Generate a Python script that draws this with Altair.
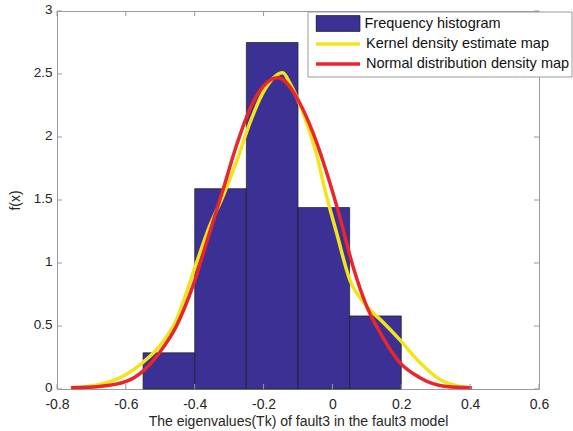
import altair as alt
import pandas as pd

# ---- data ----
hist_name = "Frequency histogram"
kde_name = "Kernel density estimate map"
norm_name = "Normal distribution density map"

bin_left = [-0.55, -0.40, -0.25, -0.10, 0.05]
bin_right = [-0.40, -0.25, -0.10, 0.05, 0.20]
bin_height = [0.287, 1.59, 2.75, 1.44, 0.58]

kde_x = [-0.76, -0.677, -0.599, -0.551, -0.502, -0.453, -0.405, -0.357, -0.318,
         -0.279, -0.240, -0.202, -0.144, -0.124, -0.085, -0.047, -0.017, 0.012,
         0.050, 0.099, 0.147, 0.196, 0.254, 0.312, 0.370, 0.395]
kde_y = [0.01, 0.036, 0.115, 0.21, 0.34, 0.55, 0.92, 1.29, 1.53,
         1.80, 2.11, 2.35, 2.51, 2.43, 2.19, 1.87, 1.53, 1.24,
         0.87, 0.66, 0.53, 0.39, 0.21, 0.075, 0.02, 0.01]

norm_x = [-0.759, -0.677, -0.599, -0.551, -0.502, -0.453, -0.405, -0.357, -0.318,
          -0.279, -0.240, -0.202, -0.158, -0.095, -0.056, -0.017, 0.021, 0.060,
          0.099, 0.138, 0.196, 0.254, 0.331, 0.405]
norm_y = [0.01, 0.02, 0.06, 0.14, 0.29, 0.50, 0.82, 1.24, 1.58,
          1.93, 2.22, 2.40, 2.47, 2.27, 2.03, 1.72, 1.37, 0.97,
          0.66, 0.45, 0.21, 0.09, 0.02, 0.01]

x_ticks = [-0.8, -0.6, -0.4, -0.2, 0, 0.2, 0.4, 0.6]
y_ticks = [0, 0.5, 1, 1.5, 2, 2.5, 3]

x_title = "The eigenvalues(Tk) of fault3 in the fault3 model"
y_title = "f(x)"

# ---- styling ----
W, H = 482, 378
FONT = "Liberation Sans"
GRAY = "#9a9a9a"
TXT = "#262626"
NAVY = "#3b3194"
YELLOW = "#f2e41c"
RED = "#e8262b"

bars = pd.DataFrame({"x0": bin_left, "x1": bin_right, "h": bin_height,
                     "base": [0] * len(bin_left), "label": [hist_name] * len(bin_left)})
lines = pd.concat([
    pd.DataFrame({"x": kde_x, "y": kde_y, "series": kde_name, "i": range(len(kde_x))}),
    pd.DataFrame({"x": norm_x, "y": norm_y, "series": norm_name, "i": range(len(norm_x))}),
])
xt = pd.DataFrame({"v": x_ticks})
yt = pd.DataFrame({"v": y_ticks})

xs = alt.Scale(domain=[-0.8, 0.6], nice=False, zero=False)
ys = alt.Scale(domain=[0, 3], nice=False)

x_axis = alt.Axis(values=x_ticks, labelExpr="'' + datum.value", domain=False, ticks=False,
                  grid=False, labelFlush=False, labelPadding=8, labelFontSize=14,
                  labelFont=FONT, labelColor=TXT, titleFont=FONT, titleFontSize=14,
                  titleFontWeight="normal", titleColor=TXT, titlePadding=3,
                  labelOverlap=False)
y_axis = alt.Axis(values=y_ticks, labelExpr="'' + datum.value", domain=False, ticks=False,
                  grid=False, labelFlush=False, labelPadding=5, labelFontSize=13.5,
                  labelOffset=-1.5,
                  labelFont=FONT, labelColor=TXT, titleFont=FONT, titleFontSize=14,
                  titleFontWeight="normal", titleColor=TXT, titlePadding=11,
                  labelOverlap=False)


def X(field):
    return alt.X(field, scale=xs, axis=x_axis, title=x_title)


def Y(field):
    return alt.Y(field, scale=ys, axis=y_axis, title=y_title)


bar_layer = alt.Chart(bars).mark_rect(stroke="#1a1a1a", strokeWidth=0.7).encode(
    x=X("x0:Q"),
    x2="x1:Q",
    y=Y("h:Q"),
    y2="base:Q",
    fill=alt.Fill("label:N", scale=alt.Scale(domain=[hist_name], range=[NAVY]),
                  legend=alt.Legend(title=None, orient="none", legendX=258.5, legendY=3,
                                    padding=0, clipHeight=19,
                                    symbolType="M-1,-0.36H1V0.36H-1Z", symbolSize=1936,
                                    symbolStrokeColor="#1a1a1a", symbolStrokeWidth=0.7,
                                    symbolOpacity=1,
                                    labelFont=FONT, labelFontSize=14.5, labelColor="#111",
                                    labelLimit=300, labelOffset=4)),
)

line_layer = alt.Chart(lines).mark_line(strokeWidth=3.5, interpolate="monotone").encode(
    x=X("x:Q"),
    y=Y("y:Q"),
    order="i:Q",
    stroke=alt.Stroke("series:N",
                      scale=alt.Scale(domain=[kde_name, norm_name], range=[YELLOW, RED]),
                      legend=alt.Legend(title=None, orient="none", legendX=257, legendY=23.5,
                                        padding=0, clipHeight=19, rowPadding=1,
                                        symbolType="stroke", symbolSize=1936,
                                        symbolStrokeWidth=3.5,
                                        labelFont=FONT, labelFontSize=14.5, labelColor="#111",
                                        labelLimit=300, labelOffset=4)),
)

tick_bottom = alt.Chart(xt).mark_rule(color=GRAY, strokeWidth=1).encode(
    x=X("v:Q"), y=alt.value(H), y2=alt.value(H - 5))
tick_top = alt.Chart(xt).mark_rule(color=GRAY, strokeWidth=1).encode(
    x=X("v:Q"), y=alt.value(0), y2=alt.value(5))
tick_left = alt.Chart(yt).mark_rule(color=GRAY, strokeWidth=1).encode(
    y=Y("v:Q"), x=alt.value(0), x2=alt.value(5))
tick_right = alt.Chart(yt).mark_rule(color=GRAY, strokeWidth=1).encode(
    y=Y("v:Q"), x=alt.value(W), x2=alt.value(W - 5))

legend_box = alt.Chart(pd.DataFrame({"a": [0]})).mark_rect(
    fill="white", stroke=GRAY, strokeWidth=1).encode(
    x=alt.value(251), x2=alt.value(515), y=alt.value(1), y2=alt.value(66))

chart = alt.layer(
    bar_layer, line_layer, tick_bottom, tick_top, tick_left, tick_right, legend_box
).properties(
    width=W, height=H,
    autosize=alt.AutoSizeParams(type="none"),
    padding={"left": 57, "top": 11, "right": 34, "bottom": 42},
    background="white",
).configure_view(stroke=GRAY, strokeWidth=1)

chart.save("out.html", embed_options={"renderer": "svg", "actions": False})
